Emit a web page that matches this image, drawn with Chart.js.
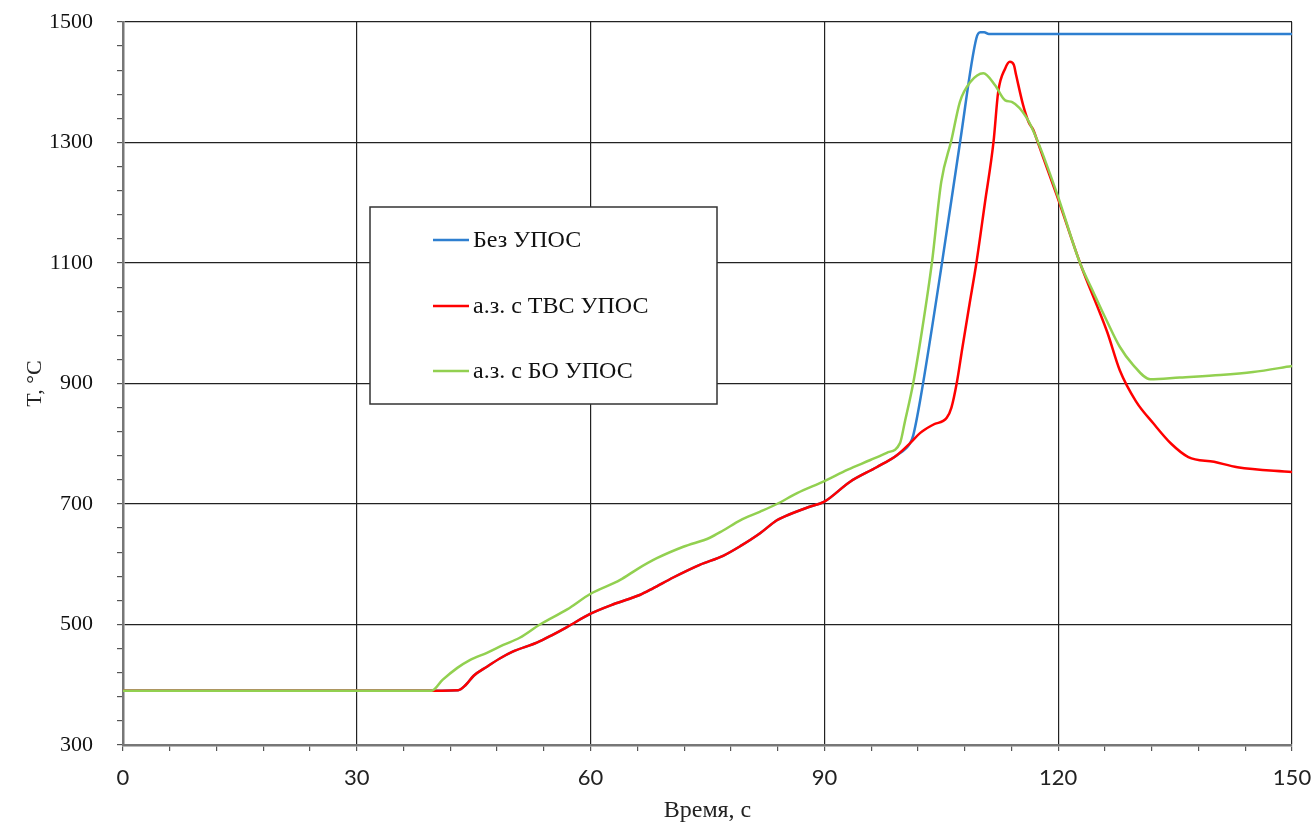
<!DOCTYPE html>
<html>
<head>
<meta charset="utf-8">
<script src="https://cdn.jsdelivr.net/npm/chart.js@4"></script>
<style>
  html, body { margin: 0; background: #fff; }
  #wrap { width: 1314px; height: 823px; }
</style>
</head>
<body>
<div id="wrap"><canvas id="tempChart"></canvas></div>
<script>
const seriesLabels = ['Без УПОС', 'а.з. с ТВС УПОС', 'а.з. с БО УПОС'];

// common heat-up part (blue and red coincide up to ~101 s)
const sharedTime = [0, 38, 43, 44, 45, 46.7, 48.4, 50, 53.1, 55, 57, 60, 63, 66.3, 68, 70.6, 74, 77, 79.2, 81.7, 83.9, 85, 88, 90, 93.3, 96.7, 99.3, 101];
const sharedTemp = [390, 390, 391, 400, 415, 430, 444, 455, 470, 482, 496, 518, 534, 549, 560, 578, 599, 614, 630, 651, 673, 680, 695, 704, 737, 761, 781, 801];

const noUposTime = [101.4, 102.3, 105.1, 107.4, 109.5, 110.0, 110.5, 111.1, 150];
const noUposTemp = [814, 873, 1101, 1300, 1473, 1483, 1483, 1480, 1480];

const tvsUposTime = [102.3, 104, 105.7, 106.3, 107, 107.7, 108.6, 109.5, 110.6, 111.7, 112.3, 113.2, 113.8, 114.3, 114.6, 115.5, 116.2, 116.8, 117.2, 118.1, 119.8, 122.8, 126.3, 127.9, 130, 132.2, 134.5, 136.7, 140, 143, 150];
const tvsUposTemp = [818, 832, 843, 860, 902, 959, 1030, 1100, 1200, 1301, 1384, 1423, 1434, 1429, 1412, 1362, 1334, 1321, 1307, 1274, 1213, 1100, 985, 922, 870, 834, 800, 778, 770, 761, 753];

const boUposTime = [0, 39.6, 41, 42.9, 44.5, 46.7, 48.8, 50.9, 53.5, 57, 60, 63.8, 66, 68.5, 71.9, 75.3, 77, 79.2, 81.7, 83.9, 86.5, 90, 93, 95.9, 98, 99.7, 100.3, 101.4, 102.5, 103.8, 105.0, 106.3, 107.4, 108.7, 110.4, 111.9, 113.2, 114.1, 116, 117.4, 119.9, 122.8, 124.5, 126.2, 127.9, 129.6, 131.8, 135.6, 140.8, 145, 150];
const boUposTemp = [390, 390, 408, 428, 441, 453, 466, 478, 500, 525, 551, 574, 592, 610, 629, 644, 656, 673, 687, 700, 718, 738, 757, 773, 785, 801, 835, 901, 986, 1101, 1235, 1304, 1368, 1400, 1415, 1395, 1370, 1367, 1340, 1301, 1213, 1100, 1052, 1005, 961, 931, 907, 910, 914, 919, 929];

const xTickStep = 6, xMajor = 30;
const yTickStep = 40, yMajor = 200;

const seriesColors = ['#2e7fd0', '#ff0000', '#92d050'];

function toPoints(times, temps) {
    return times.map((t, i) => ({ x: t, y: temps[i] }));
}

function noEdgePadding(s) {
    s.paddingTop = 0;
    s.paddingBottom = 0;
    s.paddingLeft = 0;
    s.paddingRight = 0;
}

const legendBox = {
    id: 'legendBox',
    afterDatasetsDraw(chart) {
        const ctx = chart.ctx;
        ctx.save();
        ctx.fillStyle = '#fff';
        ctx.fillRect(370, 207, 347, 197);
        ctx.strokeStyle = '#333';
        ctx.lineWidth = 1.5;
        ctx.strokeRect(370, 207, 347, 197);
        const rows = [240, 306, 371];
        ctx.font = '24px "Liberation Serif", "Times New Roman", serif';
        ctx.textBaseline = 'middle';
        ctx.fillStyle = '#111';
        seriesLabels.forEach((label, i) => {
            ctx.strokeStyle = seriesColors[i];
            ctx.lineWidth = 2.5;
            ctx.beginPath();
            ctx.moveTo(433, rows[i]);
            ctx.lineTo(469, rows[i]);
            ctx.stroke();
            ctx.fillText(label, 473, rows[i] + 1);
        });
        ctx.restore();
    }
};

const lineStyle = { borderWidth: 2.5, pointRadius: 0, fill: false, cubicInterpolationMode: 'monotone' };

new Chart(document.getElementById('tempChart'), {
    type: 'line',
    data: {
        datasets: [
            { label: seriesLabels[0], data: toPoints(sharedTime.concat(noUposTime), sharedTemp.concat(noUposTemp)), borderColor: seriesColors[0], order: 3, ...lineStyle },
            { label: seriesLabels[1], data: toPoints(sharedTime.concat(tvsUposTime), sharedTemp.concat(tvsUposTemp)), borderColor: seriesColors[1], order: 2, ...lineStyle },
            { label: seriesLabels[2], data: toPoints(boUposTime, boUposTemp), borderColor: seriesColors[2], order: 1, ...lineStyle },
        ],
    },
    options: {
        responsive: true,
        maintainAspectRatio: false,
        animation: false,
        layout: { padding: { top: 22, right: 22, left: 0, bottom: 0 } },
        plugins: { legend: { display: false }, tooltip: { enabled: false } },
        scales: {
            x: {
                type: 'linear',
                min: 0, max: 150,
                afterFit: (s) => { s.height = 78; noEdgePadding(s); },
                border: { color: '#777', width: 2.5 },
                grid: {
                    color: (c) => (c.tick && c.tick.value % xMajor === 0 ? '#222' : 'rgba(0,0,0,0)'),
                    lineWidth: 1.2,
                    tickColor: '#555',
                    tickLength: 6,
                },
                ticks: {
                    stepSize: xTickStep,
                    autoSkip: false,
                    maxRotation: 0,
                    padding: 14,
                    color: '#222',
                    font: { family: 'Lato, "Liberation Sans", sans-serif', size: 22 },
                    callback: (v) => (v % xMajor === 0 ? v : ''),
                },
                title: {
                    display: true,
                    text: 'Время, с',
                    color: '#222',
                    padding: { top: 0, bottom: 0 },
                    font: { family: '"Liberation Serif", "Times New Roman", serif', size: 24, lineHeight: 1 },
                },
            },
            y: {
                min: 300, max: 1500,
                afterFit: (s) => { s.width = 123; noEdgePadding(s); },
                border: { color: '#777', width: 2.5 },
                grid: {
                    color: (c) => (c.tick && (c.tick.value - 300) % yMajor === 0 ? '#222' : 'rgba(0,0,0,0)'),
                    lineWidth: 1.2,
                    tickColor: '#555',
                    tickLength: 6,
                },
                ticks: {
                    stepSize: yTickStep,
                    autoSkip: false,
                    padding: 24,
                    color: '#111',
                    font: { family: '"Liberation Serif", "Times New Roman", serif', size: 22 },
                    callback: (v) => ((v - 300) % yMajor === 0 ? v : ''),
                },
                title: {
                    display: true,
                    text: 'T, °C',
                    color: '#222',
                    padding: { top: 22, bottom: 0 },
                    font: { family: '"Liberation Serif", "Times New Roman", serif', size: 22 },
                },
            },
        },
    },
    plugins: [legendBox],
});
</script>
</body>
</html>
